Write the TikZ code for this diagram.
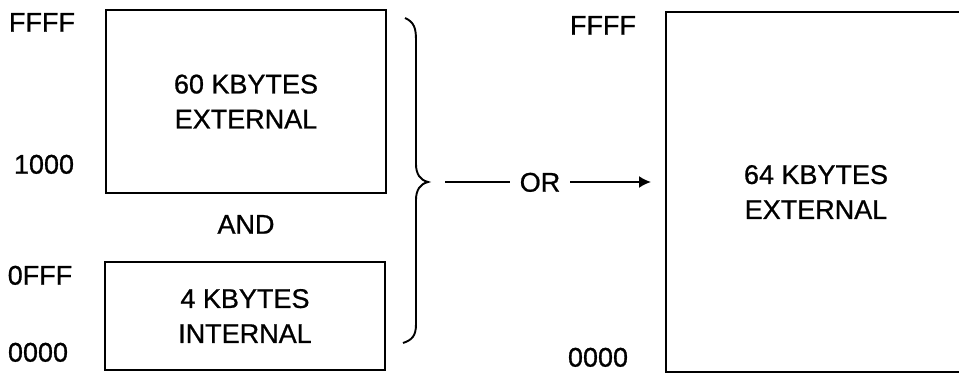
\documentclass[tikz,border=0pt]{standalone}
\usepackage{fontspec}
\setmainfont[FakeBold=0.8]{Liberation Sans}
\usetikzlibrary{arrows.meta}
\tikzset{
  lbl/.style={inner sep=0pt, text height=19.3pt, text depth=0pt, font=\fontsize{27}{35}\selectfont},
  membox/.style={draw, line width=2pt, inner sep=0pt, align=center, font=\fontsize{27}{35}\selectfont},
  conn/.style={line width=1.9pt},
}
\begin{document}
\begin{tikzpicture}[x=1pt,y=-1pt]
\useasboundingbox (0,0) rectangle (959,379);
\clip (0,0) rectangle (959,379);
% left boxes
\node[membox, minimum width=280pt, minimum height=183pt] (ext60) at (246,101.5) {60 KBYTES\\EXTERNAL};
\node[membox, minimum width=280pt, minimum height=108pt] (int4) at (245,316) {4 KBYTES\\INTERNAL};
\node[lbl] (and) at (246,224) {AND};
% left address labels
\node[lbl] (lffff) at (42,22) {FFFF};
\node[lbl] (l1000) at (44,164) {1000};
\node[lbl] (l0fff) at (40,275) {0FFF};
\node[lbl] (l0000) at (38,352) {0000};
% right box
\node[membox, minimum width=300pt, minimum height=360pt] (ext64) at (816,192) {64 KBYTES\\EXTERNAL};
\node[lbl] (rffff) at (603,25) {FFFF};
\node[lbl] (r0000) at (598,357) {0000};
% brace
\draw[conn] (405,18) .. controls (414,22) and (416,28) .. (416,40)
  -- (416,164) .. controls (416,174) and (420,180) .. (428,182)
  .. controls (420,184) and (416,190) .. (416,200)
  -- (416,324) .. controls (416,336) and (412,340) .. (403,343);
\coordinate (tip) at (445,182);
% OR connector
\node[lbl, inner xsep=10pt] (or) at (540,182) {OR};
\draw[conn] (tip) -- (or.west);
\draw[conn, -{Latex[length=12pt,width=12pt]}, shorten >=14pt] (or.east) -- (ext64.west |- or.east);
\end{tikzpicture}
\end{document}
